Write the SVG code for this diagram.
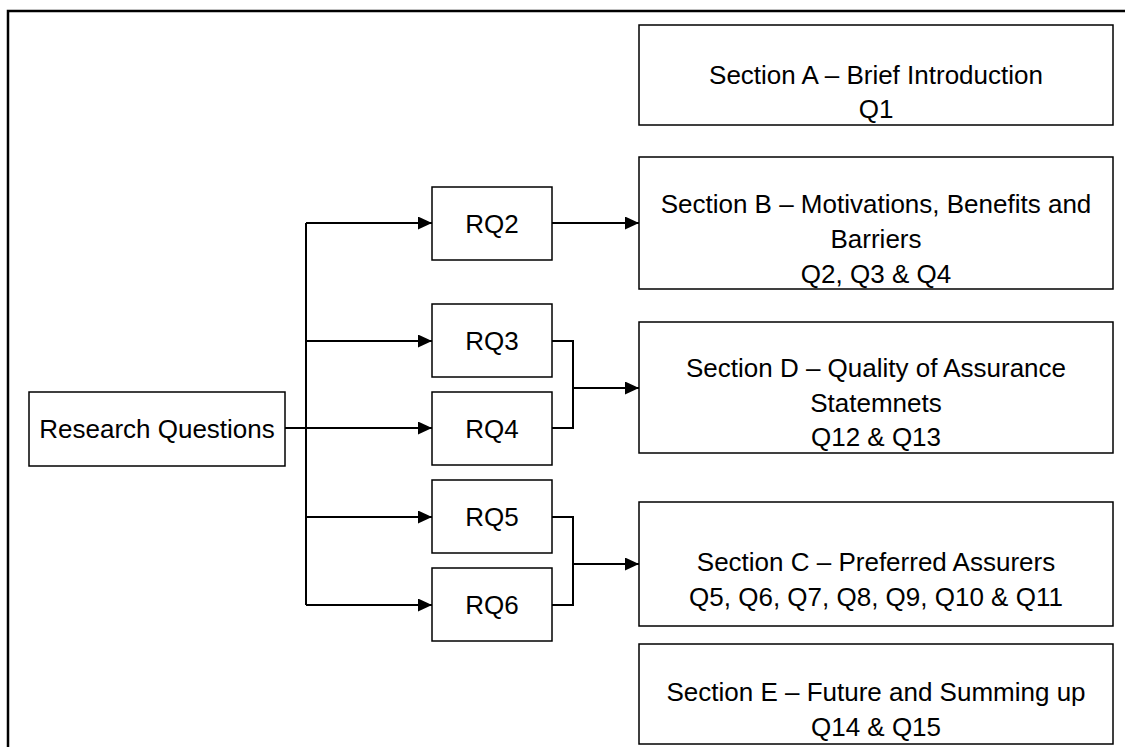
<svg xmlns="http://www.w3.org/2000/svg" width="1125" height="747" viewBox="0 0 1125 747">
  <style>
    .box { fill: #ffffff; stroke: #000000; stroke-width: 1.5; }
    .lbl { font-family: "Liberation Sans", Arial, sans-serif; font-size: 26px; fill: #000000; text-anchor: middle; }
    .wire { fill: none; stroke: #000000; stroke-width: 2; }
    .frame { fill: none; stroke: #000000; stroke-width: 2.5; }
  </style>
  <defs>
    <marker id="arrow" viewBox="0 0 14 13" refX="14" refY="6.5" markerWidth="14" markerHeight="13" markerUnits="userSpaceOnUse" orient="auto">
      <path d="M0,0 L14,6.5 L0,13 Z" fill="#000000"/>
    </marker>
  </defs>

  <rect width="1125" height="747" fill="#ffffff"/>

  <!-- outer frame (open to the right and bottom) -->
  <path class="frame" d="M8,747 L8,11 L1125,11"/>

  <!-- connectors -->
  <g id="connectors">
    <!-- trunk from Research Questions -->
    <line class="wire" x1="285" y1="428" x2="306" y2="428"/>
    <line class="wire" x1="306" y1="223" x2="306" y2="605"/>
    <line class="wire" x1="306" y1="223" x2="432" y2="223" marker-end="url(#arrow)"/>
    <line class="wire" x1="306" y1="341" x2="432" y2="341" marker-end="url(#arrow)"/>
    <line class="wire" x1="306" y1="428" x2="432" y2="428" marker-end="url(#arrow)"/>
    <line class="wire" x1="306" y1="517" x2="432" y2="517" marker-end="url(#arrow)"/>
    <line class="wire" x1="306" y1="605" x2="432" y2="605" marker-end="url(#arrow)"/>
    <!-- RQ2 to Section B -->
    <line class="wire" x1="552" y1="223" x2="639" y2="223" marker-end="url(#arrow)"/>
    <!-- RQ3 + RQ4 to Section D -->
    <path class="wire" d="M552,341 L573,341 L573,428 L552,428"/>
    <line class="wire" x1="573" y1="388" x2="639" y2="388" marker-end="url(#arrow)"/>
    <!-- RQ5 + RQ6 to Section C -->
    <path class="wire" d="M552,517 L573,517 L573,605 L552,605"/>
    <line class="wire" x1="573" y1="564" x2="639" y2="564" marker-end="url(#arrow)"/>
  </g>

  <g id="research-questions">
    <rect class="box" x="29" y="392" width="256" height="74"/>
    <text class="lbl" x="157" y="438">Research Questions</text>
  </g>

  <g id="rq2">
    <rect class="box" x="432" y="187" width="120" height="73"/>
    <text class="lbl" x="492" y="233">RQ2</text>
  </g>
  <g id="rq3">
    <rect class="box" x="432" y="304" width="120" height="73"/>
    <text class="lbl" x="492" y="350">RQ3</text>
  </g>
  <g id="rq4">
    <rect class="box" x="432" y="392" width="120" height="73"/>
    <text class="lbl" x="492" y="438">RQ4</text>
  </g>
  <g id="rq5">
    <rect class="box" x="432" y="480" width="120" height="73"/>
    <text class="lbl" x="492" y="526">RQ5</text>
  </g>
  <g id="rq6">
    <rect class="box" x="432" y="568" width="120" height="73"/>
    <text class="lbl" x="492" y="614">RQ6</text>
  </g>

  <g id="section-a">
    <rect class="box" x="639" y="25" width="474" height="100"/>
    <text class="lbl" x="876" y="84">Section A – Brief Introduction</text>
    <text class="lbl" x="876" y="118">Q1</text>
  </g>
  <g id="section-b">
    <rect class="box" x="639" y="157" width="474" height="132"/>
    <text class="lbl" x="876" y="213">Section B – Motivations, Benefits and</text>
    <text class="lbl" x="876" y="248">Barriers</text>
    <text class="lbl" x="876" y="283">Q2, Q3 &amp; Q4</text>
  </g>
  <g id="section-d">
    <rect class="box" x="639" y="322" width="474" height="131"/>
    <text class="lbl" x="876" y="377">Section D – Quality of Assurance</text>
    <text class="lbl" x="876" y="412">Statemnets</text>
    <text class="lbl" x="876" y="446">Q12 &amp; Q13</text>
  </g>
  <g id="section-c">
    <rect class="box" x="639" y="502" width="474" height="124"/>
    <text class="lbl" x="876" y="571">Section C – Preferred Assurers</text>
    <text class="lbl" x="876" y="606">Q5, Q6, Q7, Q8, Q9, Q10 &amp; Q11</text>
  </g>
  <g id="section-e">
    <rect class="box" x="639" y="644" width="474" height="100"/>
    <text class="lbl" x="876" y="701">Section E – Future and Summing up</text>
    <text class="lbl" x="876" y="736">Q14 &amp; Q15</text>
  </g>
</svg>
